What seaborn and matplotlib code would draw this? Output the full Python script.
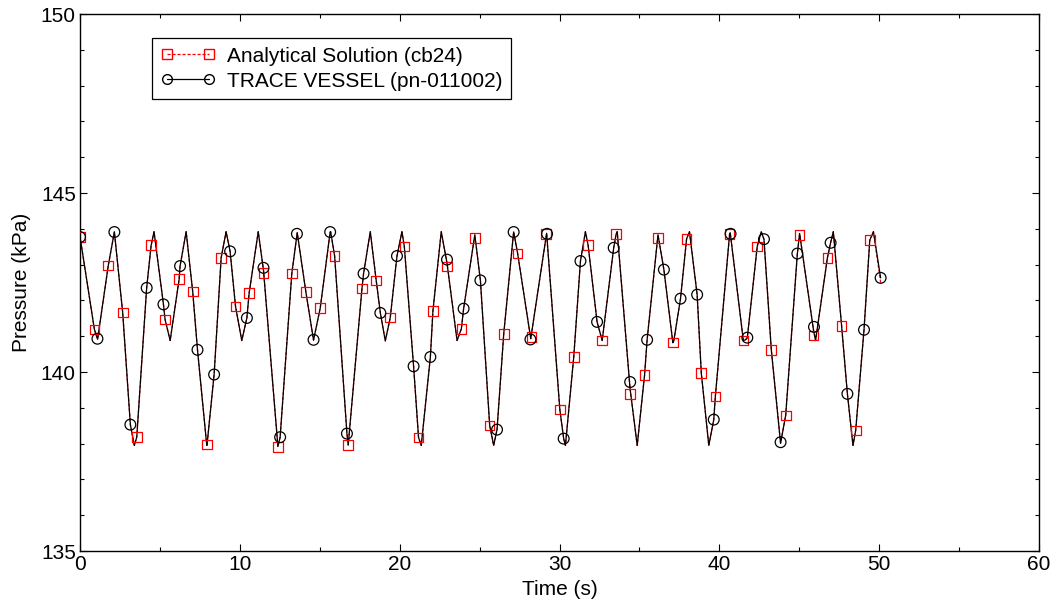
import matplotlib
matplotlib.use("Agg")
import matplotlib.pyplot as plt
from matplotlib.lines import Line2D
from matplotlib.ticker import MultipleLocator
import pandas as pd
import seaborn as sns

# turning points of the pressure curve (s, kPa)
peak_t = [0.0, 1.11, 2.15, 3.40, 4.63, 5.64, 6.64, 7.93, 9.14, 10.12, 11.15, 12.38,
          13.61, 14.61, 15.68, 16.80, 18.16, 19.10, 20.14, 21.35, 22.60, 23.59,
          24.67, 25.88, 27.13, 28.18, 29.20, 30.37, 31.62, 32.67, 33.61, 34.86,
          36.15, 37.15, 38.13, 39.34, 40.66, 41.64, 42.62, 43.83, 45.02, 46.02,
          47.13, 48.36, 49.64]
peak_p = [143.80, 140.90, 143.92, 137.95, 143.92, 140.88, 143.92, 137.95, 143.92,
          140.88, 143.92, 137.93, 143.92, 140.88, 143.92, 137.95, 143.92, 140.87,
          143.92, 137.95, 143.92, 140.88, 143.92, 137.95, 143.92, 140.90, 143.92,
          137.95, 143.92, 140.88, 143.92, 137.95, 143.92, 140.87, 143.92, 137.95,
          143.92, 140.90, 143.92, 137.98, 143.92, 140.88, 143.92, 137.95, 143.92]

# Analytical Solution (cb24) markers
ana_t = [0.0, 0.90, 1.77, 2.67, 3.55, 4.45, 5.32, 6.20, 7.05, 7.95, 8.83, 9.73,
         10.58, 11.48, 12.38, 13.25, 14.13, 15.03, 15.93, 16.76, 17.64, 18.53,
         19.41, 20.29, 21.18, 22.08, 22.96, 23.86, 24.73, 25.63, 26.51, 27.38,
         28.24, 29.16, 30.02, 30.89, 31.79, 32.67, 33.54, 34.40, 35.32, 36.17,
         37.09, 37.95, 38.87, 39.75, 40.64, 41.50, 42.37, 43.25, 44.15, 45.02,
         45.88, 46.76, 47.65, 48.53, 49.41]
ana_p = [143.77, 141.19, 142.98, 141.66, 138.18, 143.54, 141.47, 142.59, 142.25,
         137.98, 143.19, 141.83, 142.20, 142.77, 137.91, 142.75, 142.24, 141.79,
         143.24, 137.97, 142.33, 142.56, 141.52, 143.51, 138.17, 141.71, 142.95,
         141.21, 143.74, 138.51, 141.07, 143.31, 140.98, 143.85, 138.95, 140.42,
         143.54, 140.88, 143.85, 139.38, 139.91, 143.75, 140.82, 143.72, 139.97,
         139.32, 143.85, 140.88, 143.51, 140.62, 138.79, 143.82, 141.02, 143.19,
         141.28, 138.37, 143.68]
ana_end_t = [50.13]
ana_end_p = [142.25]

# TRACE VESSEL (pn-011002) markers
trace_t = [0.0, 1.09, 2.15, 3.15, 4.17, 5.22, 6.26, 7.35, 8.39, 9.39, 10.44,
           11.48, 12.52, 13.57, 14.61, 15.65, 16.70, 17.74, 18.79, 19.83, 20.87,
           21.92, 22.96, 24.00, 25.05, 26.09, 27.13, 28.18, 29.22, 30.26, 31.31,
           32.35, 33.39, 34.42, 35.48, 36.53, 37.57, 38.61, 39.65, 40.70, 41.75,
           42.79, 43.83, 44.88, 45.92, 46.96, 48.01, 49.05, 50.09]
trace_p = [143.77, 140.93, 143.91, 138.53, 142.35, 141.89, 142.96, 140.62, 139.93,
           143.37, 141.51, 142.91, 138.18, 143.86, 140.90, 143.91, 138.28, 142.75,
           141.65, 143.24, 140.16, 140.42, 143.14, 141.77, 142.56, 138.39, 143.91,
           140.91, 143.86, 138.14, 143.10, 141.40, 143.47, 139.72, 140.90, 142.86,
           142.05, 142.16, 138.67, 143.86, 140.96, 143.71, 138.04, 143.31, 141.26,
           143.61, 139.39, 141.18, 142.63]


def curve(extra_t=(), extra_p=()):
    """All read points on the (shared) curve, sorted; near-coincident reads averaged."""
    df = pd.DataFrame({"t": peak_t + ana_t + trace_t + list(extra_t),
                       "p": peak_p + ana_p + trace_p + list(extra_p)})
    df["bin"] = df["t"].round(1)
    return df.groupby("bin", as_index=False)[["t", "p"]].mean().sort_values("t")


sns.set_style("ticks")
plt.rcParams["font.family"] = ["Liberation Sans", "DejaVu Sans"]
plt.rcParams["text.color"] = "black"
plt.rcParams["axes.labelcolor"] = "black"
FS = 15

fig = plt.figure(figsize=(10.57, 6.10), dpi=100)
ax = fig.add_axes([0.0757, 0.0967, 0.9073, 0.8803])

ana_line = curve(ana_end_t, ana_end_p)
trace_line = curve()

sns.lineplot(data=ana_line, x="t", y="p", ax=ax, estimator=None, sort=False,
             color="red", linestyle=(0, (2.5, 1.5)), linewidth=0.9)
sns.scatterplot(x=ana_t, y=ana_p, ax=ax, marker="s", s=48, facecolor="none",
                edgecolor="red", linewidth=0.9, zorder=3)
sns.lineplot(data=trace_line, x="t", y="p", ax=ax, estimator=None, sort=False,
             color="black", linewidth=0.9)
sns.scatterplot(x=trace_t, y=trace_p, ax=ax, marker="o", s=60, facecolor="none",
                edgecolor="black", linewidth=0.9, zorder=4)

ax.set_xlim(0, 60)
ax.set_ylim(135, 150)
ax.xaxis.set_major_locator(MultipleLocator(10))
ax.xaxis.set_minor_locator(MultipleLocator(5))
ax.yaxis.set_major_locator(MultipleLocator(5))
ax.yaxis.set_minor_locator(MultipleLocator(1))
ax.tick_params(which="both", direction="in", top=True, right=True,
               width=0.8, colors="black", labelsize=FS, pad=3)
ax.tick_params(which="major", length=5)
ax.tick_params(which="minor", length=3)
for sp in ax.spines.values():
    sp.set_linewidth(1.0)
    sp.set_color("black")
ax.set_xlabel("Time (s)", fontsize=FS, labelpad=4)
ax.set_ylabel("Pressure (kPa)", fontsize=FS, labelpad=7)

handles = [
    Line2D([], [], color="red", linestyle=(0, (2.5, 1.5)), linewidth=0.9, marker="s",
           markersize=6.5, markerfacecolor="none", markeredgecolor="red"),
    Line2D([], [], color="black", linewidth=0.9, marker="o", markersize=7,
           markerfacecolor="none", markeredgecolor="black"),
]
leg = ax.legend(handles, ["Analytical Solution (cb24)", "TRACE VESSEL (pn-011002)"],
                loc="upper left", bbox_to_anchor=(0.075, 0.955), numpoints=2,
                handlelength=2.64, handletextpad=0.55, labelspacing=0.3,
                fontsize=FS, frameon=True, fancybox=False, framealpha=1,
                edgecolor="black", borderaxespad=0)
leg.get_frame().set_linewidth(0.9)

fig.savefig("out.png", dpi=100)
